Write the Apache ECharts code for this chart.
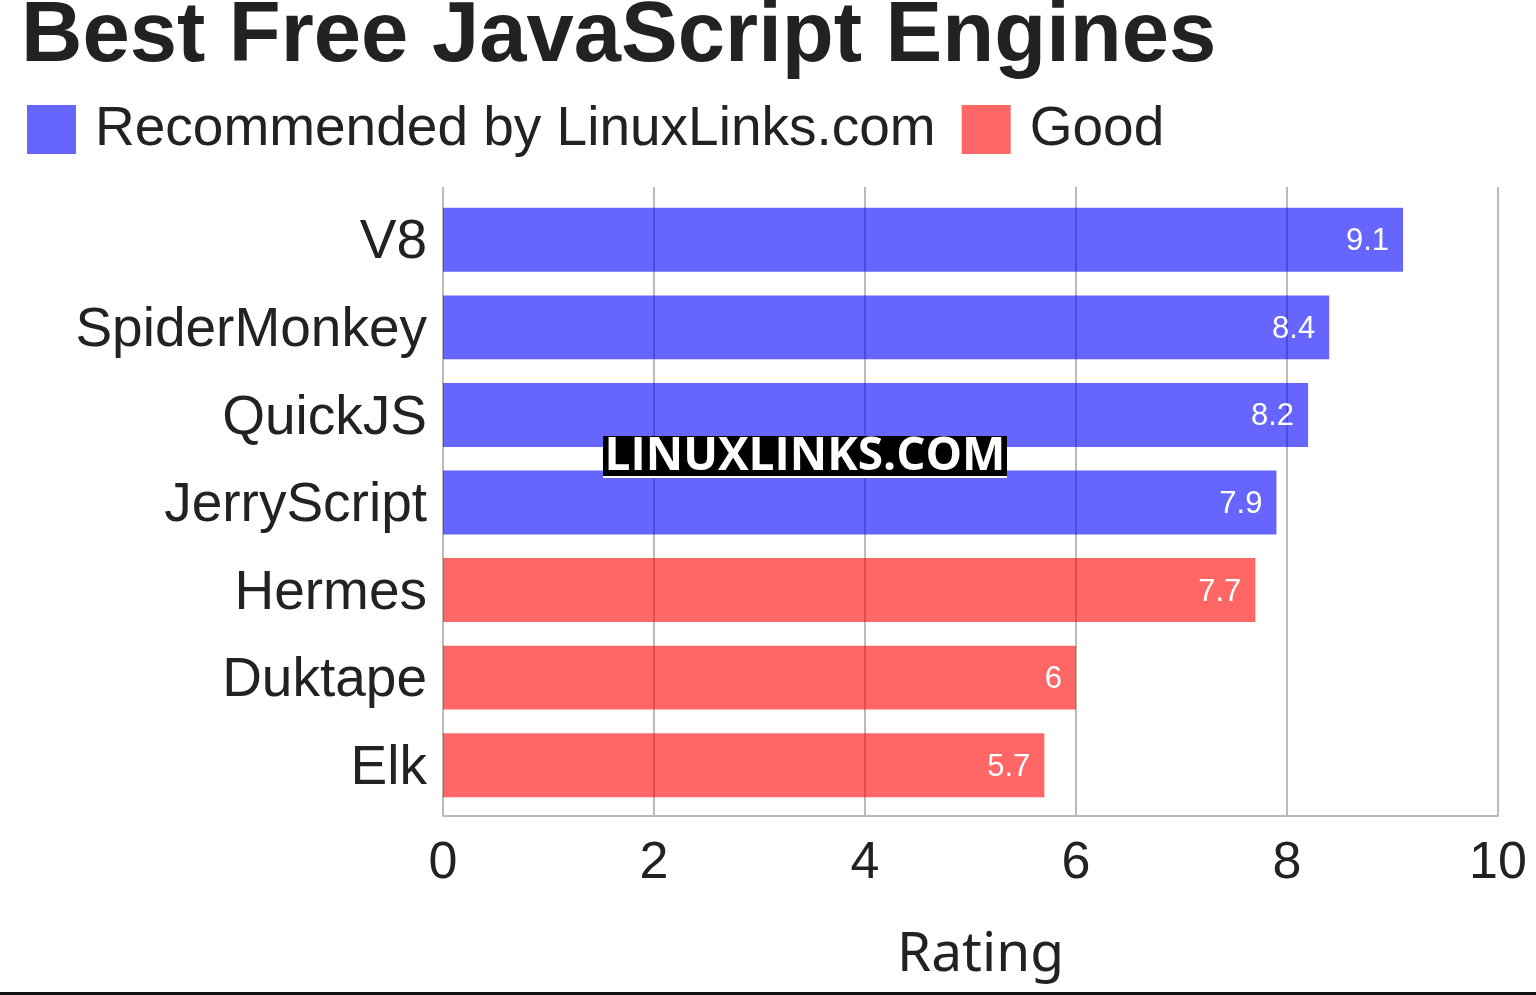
<!DOCTYPE html>
<html><head><meta charset="utf-8">
<script src="https://cdn.jsdelivr.net/npm/echarts@6/dist/echarts.min.js"></script>
<style>html,body{margin:0;padding:0;background:#fff}#c{width:1536px;height:995px}</style>
</head><body><div id="c"></div>
<script>
const categories = ['V8','SpiderMonkey','QuickJS','JerryScript','Hermes','Duktape','Elk'];
const recommended = [9.1, 8.4, 8.2, 7.9, null, null, null];
const good = [null, null, null, null, 7.7, 6, 5.7];
const xTicks = [0, 2, 4, 6, 8, 10];

const chart = echarts.init(document.getElementById('c'));
const lbl = {show:true, position:'insideRight', distance:14, color:'#fff', fontSize:31, fontFamily:'Liberation Sans', offset:[0,2]};
chart.setOption({
  animation:false,
  title:{text:'Best Free JavaScript Engines', left:16, top:-10,
    textStyle:{fontSize:85, fontWeight:'bold', color:'#222', fontFamily:'Liberation Sans'}},
  legend:{left:22, top:97, itemWidth:49, itemHeight:49, itemGap:26,
    icon:'rect',
    textStyle:{fontSize:55, color:'#222', fontFamily:'Liberation Sans', padding:[0,0,0,14]},
    data:['Recommended by LinuxLinks.com','Good']},
  grid:[
    {left:443, right:38, top:187, bottom:179, containLabel:false},
    {left:443, right:38, top:196, bottom:186, containLabel:false}
  ],
  xAxis:[
    {type:'value', gridIndex:0, min:0, max:10, interval:2, name:'Rating', nameLocation:'middle', nameGap:112,
     nameTextStyle:{fontSize:55, color:'#222', fontFamily:'Noto Sans', padding:[0,0,0,20]},
     axisLine:{show:true, lineStyle:{color:'#bbb', width:2}},
     axisTick:{show:false},
     axisLabel:{fontSize:52, color:'#222', fontFamily:'Liberation Sans', margin:22,
       formatter:v=>xTicks.includes(v)?String(v):''},
     splitLine:{show:true, lineStyle:{color:'#bbb', width:2}}},
    {type:'value', gridIndex:1, min:0, max:10, show:false}
  ],
  yAxis:[
    {type:'category', gridIndex:0, data:categories, show:false},
    {type:'category', gridIndex:1, data:categories, inverse:true,
     axisLine:{show:false}, axisTick:{show:false},
     axisLabel:{color:'#222', margin:16, formatter:v=>'{a|'+v+'}',
       rich:{a:{fontSize:55, color:'#222', fontFamily:'Liberation Sans', padding:[7,0,0,0]}}}}
  ],
  series:[
    {name:'Recommended by LinuxLinks.com', type:'bar', xAxisIndex:1, yAxisIndex:1, stack:'s',
     data:recommended, barCategoryGap:'27%', itemStyle:{color:'rgba(0,0,255,0.6)'}, label:lbl, z:3},
    {name:'Good', type:'bar', xAxisIndex:1, yAxisIndex:1, stack:'s',
     data:good, barCategoryGap:'27%', itemStyle:{color:'rgba(255,0,0,0.6)'}, label:lbl, z:3}
  ],
  graphic:[
    {type:'rect', shape:{x:603, y:436, width:404, height:40}, style:{fill:'#000'}, z:100},
    {type:'text', x:805, y:457, style:{text:'LINUXLINKS.COM', fill:'#fff', fontSize:46, fontWeight:'bold',
      fontFamily:'Open Sans', align:'center', verticalAlign:'middle'}, z:101},
    {type:'rect', shape:{x:603, y:476, width:404, height:2}, style:{fill:'#fff'}, z:101},
    {type:'rect', shape:{x:0, y:992, width:1536, height:3}, style:{fill:'#111'}, z:100}
  ]
});
</script></body></html>
